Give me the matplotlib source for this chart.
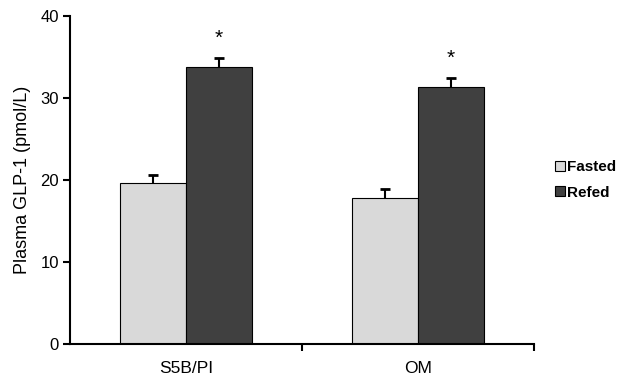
import matplotlib.pyplot as plt
import numpy as np

plt.rcParams['font.family'] = ['Liberation Sans', 'DejaVu Sans']

groups = ['S5B/PI', 'OM']
fasted = [19.6, 17.8]
fasted_err = [1.0, 1.1]
refed = [33.8, 31.3]
refed_err = [1.1, 1.1]
stars = ['*', '*']

fig = plt.figure(figsize=(6.27, 3.87), dpi=100)
ax = fig.add_axes([0.1116, 0.111, 0.74, 0.8477])

x = np.arange(len(groups))
w = 0.285
ekw = dict(ecolor='black', elinewidth=1.5, capsize=3.5, capthick=2)
b1 = ax.bar(x - w / 2, fasted, w, color='#d9d9d9', edgecolor='black', linewidth=0.8, label='Fasted',
            yerr=[np.zeros(2), fasted_err], error_kw=ekw)
b2 = ax.bar(x + w / 2, refed, w, color='#404040', edgecolor='black', linewidth=0.8, label='Refed',
            yerr=[np.zeros(2), refed_err], error_kw=ekw)

# only the upper caps
for b in (b1, b2):
    caps = b.errorbar.lines[1]
    if len(caps) == 2:
        caps[0].set_visible(False)

for i, s in enumerate(stars):
    ax.text(x[i] + w / 2, refed[i] + refed_err[i] + 2.4, s, ha='center', va='center', fontsize=15)

ax.set_xlim(-0.5, 1.5)
ax.set_ylim(0, 40)
ax.set_yticks([0, 10, 20, 30, 40])
ax.set_xticks(x)
ax.set_xticklabels(groups, fontsize=12.5)
ax.tick_params(axis='x', length=0, pad=12)
ax.set_xticks([0.5, 1.5], minor=True)
ax.tick_params(axis='x', which='minor', length=5, width=1.5, direction='out')
ax.tick_params(axis='y', labelsize=12, length=5, width=1.5, direction='out', pad=3)
ax.set_ylabel('Plasma GLP-1 (pmol/L)', fontsize=13, labelpad=7)

for s in ['top', 'right']:
    ax.spines[s].set_visible(False)
for s in ['left', 'bottom']:
    ax.spines[s].set_linewidth(1.5)

leg = ax.legend(loc='center left', bbox_to_anchor=(1.015, 0.5), frameon=False,
                handlelength=0.65, handleheight=0.65, handletextpad=0.15,
                labelspacing=0.75, prop={'weight': 'bold', 'size': 11})

fig.savefig('out.png', dpi=100)
